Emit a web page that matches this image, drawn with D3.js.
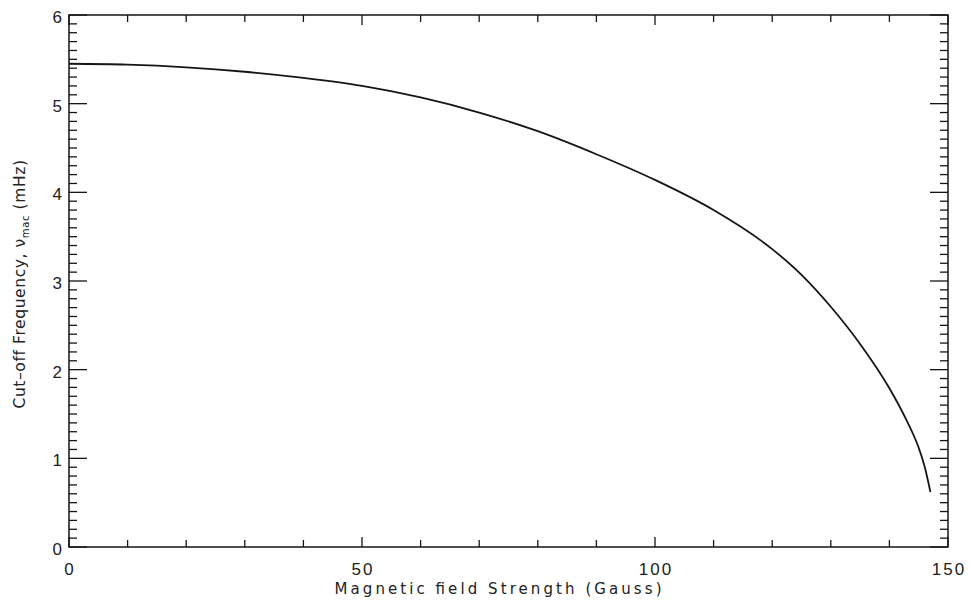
<!DOCTYPE html>
<html>
<head>
<meta charset="utf-8">
<script src="https://cdn.jsdelivr.net/npm/d3@7"></script>
<style>
  body { margin: 0; background: #fff; }
  svg { display: block; }
</style>
</head>
<body>
<div id="chart"></div>
<script>
// Data: field strength (Gauss) vs cut-off frequency (mHz)
const fieldStrength = [0, 10, 20, 30, 40, 50, 60, 70, 80, 90, 100, 110, 120, 125, 130, 135, 140, 143, 144, 145, 146, 147];
const cutoffFreq = [5.45, 5.44, 5.41, 5.36, 5.29, 5.20, 5.07, 4.90, 4.69, 4.43, 4.14, 3.80, 3.36, 3.07, 2.71, 2.29, 1.79, 1.42, 1.28, 1.12, 0.91, 0.62];

const xMajor = [0, 50, 100, 150];
const yMajor = [0, 1, 2, 3, 4, 5, 6];
const xMinorStep = 10;
const yMinorStep = 0.1;

const xTitle = "Magnetic field Strength (Gauss)";

// Layout
const width = 970;
const height = 601;
const marginTop = 15;
const marginRight = 22;
const marginBottom = 54;
const marginLeft = 69;
const font = "'Liberation Sans', Arial, sans-serif";
const titleFont = "'DejaVu Sans', Verdana, sans-serif";
const ink = "#151515";

const x = d3.scaleLinear([0, 150], [marginLeft, width - marginRight]);
const y = d3.scaleLinear([0, 6], [height - marginBottom, marginTop]);

const xMinor = d3.range(0, 150 + 1e-9, xMinorStep).filter(v => !xMajor.includes(v));
const yMinor = d3.range(0, 6 + 1e-9, yMinorStep).map(v => +v.toFixed(1)).filter(v => !yMajor.includes(v));

const svg = d3.select("#chart").append("svg")
  .attr("width", width)
  .attr("height", height)
  .attr("viewBox", [0, 0, width, height]);

const x0 = x.range()[0], x1 = x.range()[1];
const y0 = y.range()[0], y1 = y.range()[1];

// inward tick marks on every side
function xTicks(values, len) {
  svg.append("g").selectAll("line").data(values).join("line")
    .attr("x1", d => x(d)).attr("x2", d => x(d))
    .attr("y1", y0).attr("y2", y0 - len)
    .attr("stroke", ink).attr("stroke-width", 1.3);
  svg.append("g").selectAll("line").data(values).join("line")
    .attr("x1", d => x(d)).attr("x2", d => x(d))
    .attr("y1", y1).attr("y2", y1 + len)
    .attr("stroke", ink).attr("stroke-width", 1.3);
}
function yTicks(values, len) {
  svg.append("g").selectAll("line").data(values).join("line")
    .attr("x1", x0).attr("x2", x0 + len)
    .attr("y1", d => y(d)).attr("y2", d => y(d))
    .attr("stroke", ink).attr("stroke-width", 1.3);
  svg.append("g").selectAll("line").data(values).join("line")
    .attr("x1", x1).attr("x2", x1 - len)
    .attr("y1", d => y(d)).attr("y2", d => y(d))
    .attr("stroke", ink).attr("stroke-width", 1.3);
}

xTicks(xMajor, 10);
xTicks(xMinor, 7);
yTicks(yMajor, 18);
yTicks(yMinor, 8);

// Frame
svg.append("rect")
  .attr("x", x0)
  .attr("y", y1)
  .attr("width", x1 - x0)
  .attr("height", y0 - y1)
  .attr("fill", "none")
  .attr("stroke", ink)
  .attr("stroke-width", 1.5);

// Tick labels
svg.append("g")
  .attr("font-family", font)
  .attr("font-size", 17)
  .attr("fill", "#222")
  .attr("text-anchor", "middle")
  .selectAll("text")
  .data(xMajor)
  .join("text")
  .attr("x", d => x(d) + 1)
  .attr("y", y0 + 28)
  .attr("letter-spacing", 2)
  .text(d => d);

svg.append("g")
  .attr("font-family", font)
  .attr("font-size", 17)
  .attr("fill", "#222")
  .attr("text-anchor", "end")
  .selectAll("text")
  .data(yMajor)
  .join("text")
  .attr("x", x0 - 7)
  .attr("y", d => y(d) + 2)
  .attr("dy", "0.35em")
  .text(d => d);

// Axis titles
svg.append("text")
  .attr("font-family", titleFont)
  .attr("font-size", 15)
  .attr("fill", "#222")
  .attr("text-anchor", "middle")
  .attr("x", 498)
  .attr("y", height - 7)
  .attr("textLength", 327)
  .attr("lengthAdjust", "spacing")
  .text(xTitle);

const yTitle = svg.append("text")
  .attr("font-family", titleFont)
  .attr("font-size", 15.5)
  .attr("fill", "#222")
  .attr("letter-spacing", 0.6)
  .attr("transform", "translate(25,284) rotate(-90)")
  .attr("text-anchor", "middle");
yTitle.append("tspan").text("Cut\u2013off Frequency, \u03bd");
yTitle.append("tspan").attr("font-size", 10).attr("dy", 4).text("mac");
yTitle.append("tspan").attr("dy", -4).text(" (mHz)");

// Curve
const line = d3.line()
  .x((d, i) => x(fieldStrength[i]))
  .y(d => y(d))
  .curve(d3.curveMonotoneX);

svg.append("path")
  .datum(cutoffFreq)
  .attr("fill", "none")
  .attr("stroke", ink)
  .attr("stroke-width", 1.8)
  .attr("d", line);
</script>
</body>
</html>
